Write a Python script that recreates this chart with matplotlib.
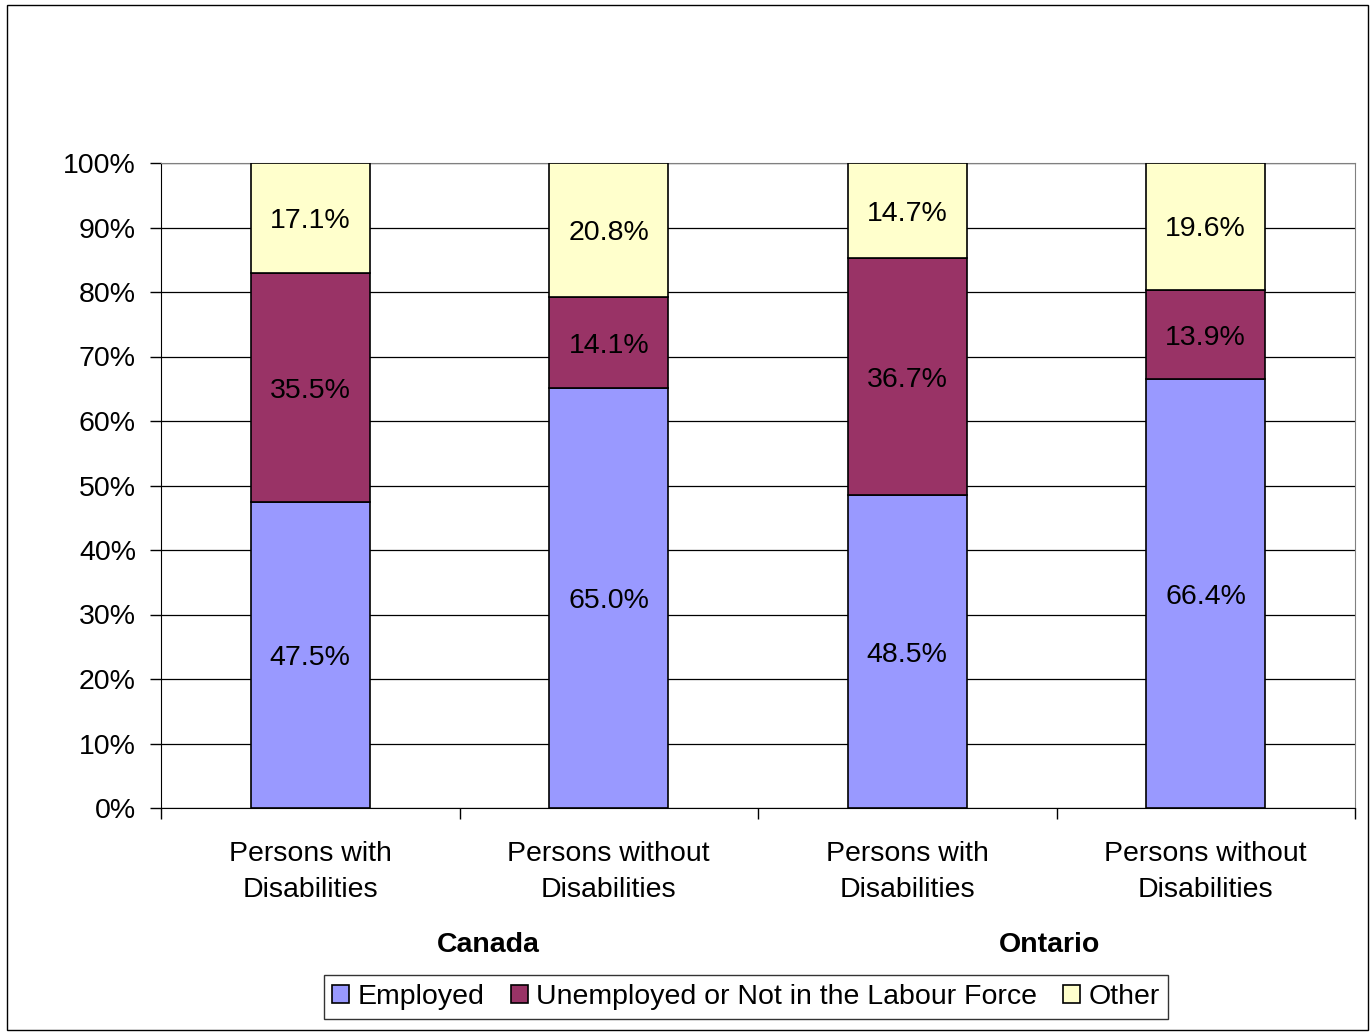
import numpy as np
import matplotlib.pyplot as plt
from matplotlib.patches import Rectangle

plt.rcParams['font.family'] = ['Liberation Sans', 'DejaVu Sans']

categories = ['Persons with\nDisabilities', 'Persons without\nDisabilities',
              'Persons with\nDisabilities', 'Persons without\nDisabilities']
groups = ['Canada', 'Ontario']
employed = [47.5, 65.0, 48.5, 66.4]
unemployed = [35.5, 14.1, 36.7, 13.9]
other = [17.1, 20.8, 14.7, 19.6]
series_names = ['Employed', 'Unemployed or Not in the Labour Force', 'Other']
colors = ['#9999FF', '#993366', '#FFFFCC']

FS = 20.5
W, H = 1372, 1034
fig = plt.figure(figsize=(W/100, H/100), dpi=100)
ax = fig.add_axes([161/W, 1-808/H, (1355-161)/W, (808-163)/H])

data = np.array([employed, unemployed, other])
totals = data.sum(axis=0)
pct = data/totals*100
x = np.arange(len(categories))
bottom = np.zeros(len(categories))
handles = []
for i in range(3):
    b = ax.bar(x, pct[i], 0.4, bottom=bottom, color=colors[i],
               edgecolor='black', linewidth=1.2, label=series_names[i], zorder=3)
    handles.append(b)
    for j in range(len(x)):
        ax.text(x[j], bottom[j]+pct[i][j]/2 - 0.5, '%.1f%%' % data[i][j],
                ha='center', va='center', fontsize=FS, zorder=4)
    bottom += pct[i]

ax.set_xlim(-0.5, 3.5)
ax.set_ylim(0, 100)
ax.set_yticks(np.arange(0, 101, 10))
ax.set_yticklabels(['%d%%' % v for v in range(0, 101, 10)], fontsize=FS)
ax.yaxis.grid(True, color='black', linewidth=0.9, zorder=0)
ax.tick_params(axis='y', length=8, width=1, pad=10)

ax.set_xticks(x)
ax.set_xticklabels(categories, fontsize=FS, linespacing=1.5)
ax.tick_params(axis='x', length=0, pad=24)
ax.set_xticks(np.arange(-0.5, 4, 1), minor=True)
ax.tick_params(axis='x', which='minor', length=8, width=1)

for s in ['top', 'right']:
    ax.spines[s].set_color('#808080')
for s in ['left', 'bottom']:
    ax.spines[s].set_color('black')

ax.text(0.595, -0.212, groups[0], transform=ax.get_xaxis_transform(),
        ha='center', va='center', fontsize=FS, fontweight='bold')
ax.text(2.478, -0.212, groups[1], transform=ax.get_xaxis_transform(),
        ha='center', va='center', fontsize=FS, fontweight='bold')

leg = fig.legend(handles=handles, loc='center', bbox_to_anchor=(746/W, 1-997/H),
                 ncol=3, fontsize=FS, frameon=True, fancybox=False,
                 edgecolor='black', handlelength=0.6, handleheight=0.6,
                 handletextpad=0.3, columnspacing=0.9, borderpad=0.3)
leg.get_frame().set_linewidth(1)

fig.patches.append(Rectangle((7/W, 1-1030/H), (1368-7)/W, (1030-5)/H,
                             transform=fig.transFigure, fill=False,
                             edgecolor='black', linewidth=1))

fig.savefig('out.png', dpi=100)
